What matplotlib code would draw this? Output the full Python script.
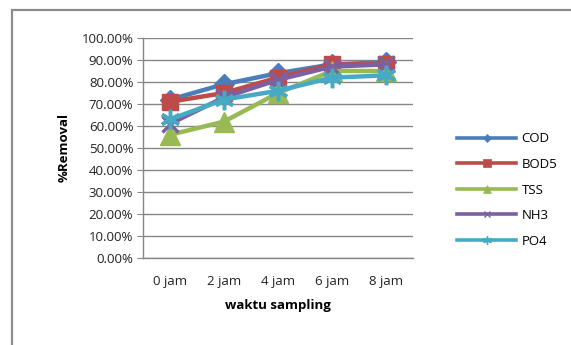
import matplotlib.pyplot as plt
from matplotlib.patches import Rectangle
from matplotlib.lines import Line2D
from matplotlib.ticker import PercentFormatter

plt.rcParams['font.family'] = ['Open Sans', 'DejaVu Sans']

waktu = ['0 jam', '2 jam', '4 jam', '6 jam', '8 jam']
cod = [72, 79, 84, 88, 89]
bod5 = [71, 75, 82, 88, 88]
tss = [56, 62, 75, 85, 85]
nh3 = [61, 73, 81, 87, 88]
po4 = [63, 72, 76, 82, 83]

series = [
    ('COD', cod, '#4A7EBB', 'D', 10),
    ('BOD5', bod5, '#BE4B48', 's', 12),
    ('TSS', tss, '#98B954', '^', 14),
    ('NH3', nh3, '#7D60A0', 'x', 11),
    ('PO4', po4, '#46AAC5', (6, 2, 0), 14),
]

fig = plt.figure(figsize=(5.71, 3.45), dpi=100)
# outer chart border (only top and left visible in the crop)
fig.patches.append(Rectangle((12/571, -0.2), 1.2, 1 - 10/345 + 0.2, transform=fig.transFigure,
                             fill=False, edgecolor='#8C8C8C', linewidth=1.6))

ax = fig.add_axes([143/571, 87/345, 270/571, 220/345])
xs = range(len(waktu))
handles = []
for name, vals, col, mk, ms in series:
    thin = mk in ('x', (6, 2, 0))
    ax.plot(xs, vals, color=col, lw=3.2, marker=mk, markersize=ms,
            markeredgewidth=2.5 if thin else 1, markeredgecolor=col)
    handles.append(Line2D([], [], color=col, lw=2.6, marker=mk,
                          markersize=ms * 0.45, markeredgewidth=1 if thin else 0.5,
                          markeredgecolor=col, label=name))

ax.set_xlim(-0.5, 4.5)
ax.set_ylim(0, 100)
ax.set_yticks(range(0, 101, 10))
ax.yaxis.set_major_formatter(PercentFormatter(decimals=2))
ax.set_xticks(list(xs))
ax.set_xticklabels(waktu)
ax.tick_params(axis='x', length=0, pad=12, labelsize=9.5, colors='#222222')
ax.tick_params(axis='y', length=4, color='#868686', labelsize=9.5, labelcolor='#222222', pad=3)
ax.grid(axis='y', color='#868686', lw=1)
ax.set_axisbelow(True)
for s in ['top', 'right']:
    ax.spines[s].set_visible(False)
for s in ['left', 'bottom']:
    ax.spines[s].set_color('#868686')
    ax.spines[s].set_linewidth(1)

ax.set_xlabel('waktu sampling', fontsize=9.5, fontweight='bold', labelpad=8)
ax.set_ylabel('%Removal', fontsize=9.5, fontweight='bold', labelpad=8)

fig.legend(handles=handles, loc='center left', bbox_to_anchor=(445/571, 1 - 190/345),
           frameon=False, handlelength=4.5, fontsize=9.5, labelspacing=0.95, handletextpad=0.4)

fig.savefig('out.png', dpi=100)
